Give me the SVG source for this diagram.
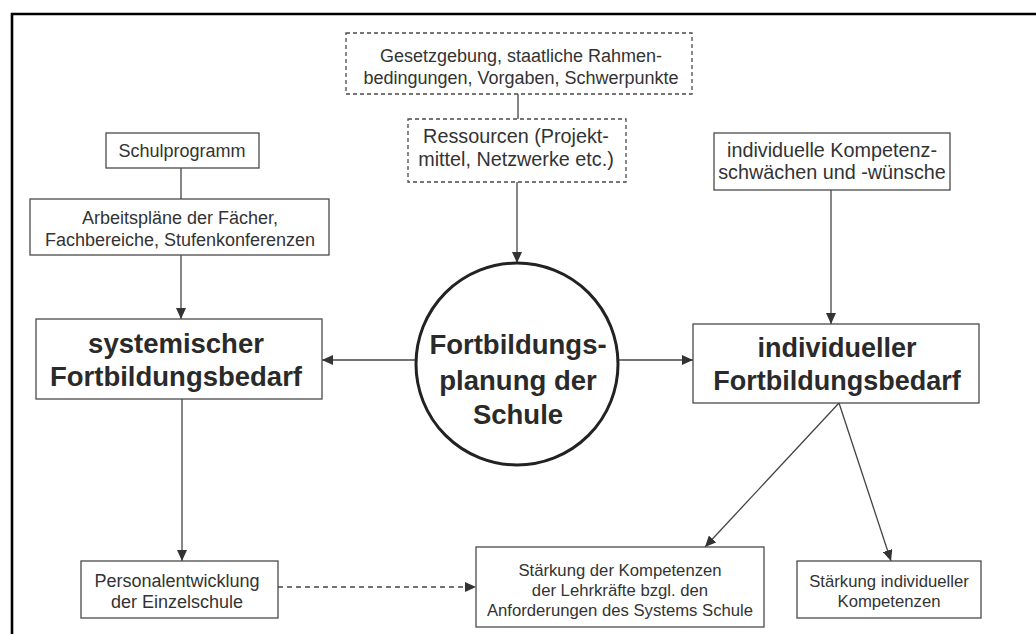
<svg xmlns="http://www.w3.org/2000/svg" width="1036" height="634" viewBox="0 0 1036 634">
  <style>
    .box { fill: #ffffff; stroke: #4a4a4a; stroke-width: 1.3; }
    .dbox { fill: #ffffff; stroke: #4a4a4a; stroke-width: 1.3; stroke-dasharray: 4 3; }
    .t { font-family: "Liberation Sans", Arial, sans-serif; font-size: 18px; fill: #333333; text-anchor: middle; }
    .tl { font-size: 19.8px; }
    .ts { font-size: 16.7px; }
    .tb { font-family: "Liberation Sans", Arial, sans-serif; font-size: 27.5px; font-weight: bold; fill: #2a2a2a; text-anchor: middle; }
    .edge { fill: none; stroke: #444444; stroke-width: 1.3; }
    .dashed { stroke-dasharray: 5 4; }
  </style>
  <defs>
    <marker id="arrow" markerUnits="userSpaceOnUse" markerWidth="12" markerHeight="10" refX="11" refY="5" orient="auto">
      <path d="M0,0 L11,5 L0,10 Z" fill="#333333"/>
    </marker>
  </defs>

  <rect x="0" y="0" width="1036" height="634" fill="#ffffff"/>
  <!-- page frame -->
  <path d="M12,634 V14 H1036" fill="none" stroke="#000000" stroke-width="2.6"/>

  <!-- connectors -->
  <g id="connectors">
    <line class="edge" x1="181" y1="168" x2="181" y2="199"/>
    <line class="edge" x1="181" y1="255" x2="181" y2="319" marker-end="url(#arrow)"/>
    <line class="edge" x1="518" y1="94" x2="518" y2="119"/>
    <line class="edge" x1="517" y1="182" x2="517" y2="263" marker-end="url(#arrow)"/>
    <line class="edge" x1="831" y1="190" x2="831" y2="324" marker-end="url(#arrow)"/>
    <line class="edge" x1="416" y1="360" x2="322" y2="360" marker-end="url(#arrow)"/>
    <line class="edge" x1="618" y1="360" x2="693" y2="360" marker-end="url(#arrow)"/>
    <line class="edge" x1="182" y1="399" x2="182" y2="561" marker-end="url(#arrow)"/>
    <line class="edge" x1="839" y1="403" x2="705" y2="547" marker-end="url(#arrow)"/>
    <line class="edge" x1="839" y1="403" x2="891" y2="561" marker-end="url(#arrow)"/>
    <line class="edge dashed" x1="278" y1="587" x2="476" y2="587" marker-end="url(#arrow)"/>
  </g>

  <g id="gesetzgebung">
    <rect class="dbox" x="346" y="33" width="346" height="61"/>
    <text class="t" x="521" y="62">Gesetzgebung, staatliche Rahmen-</text>
    <text class="t" x="521" y="84">bedingungen, Vorgaben, Schwerpunkte</text>
  </g>

  <g id="ressourcen">
    <rect class="dbox" x="408" y="119" width="218" height="63"/>
    <text class="t tl" x="516" y="143">Ressourcen (Projekt-</text>
    <text class="t tl" x="516" y="166">mittel, Netzwerke etc.)</text>
  </g>

  <g id="schulprogramm">
    <rect class="box" x="106" y="133" width="153" height="35"/>
    <text class="t" x="182" y="157">Schulprogramm</text>
  </g>

  <g id="arbeitsplaene">
    <rect class="box" x="30" y="199" width="299" height="56"/>
    <text class="t" x="180" y="224">Arbeitspläne der Fächer,</text>
    <text class="t" x="180" y="246">Fachbereiche, Stufenkonferenzen</text>
  </g>

  <g id="kompetenzschwaechen">
    <rect class="box" x="714" y="133" width="236" height="57"/>
    <text class="t tl" x="832" y="157">individuelle Kompetenz-</text>
    <text class="t tl" x="832" y="179">schwächen und -wünsche</text>
  </g>

  <g id="systemischer-bedarf">
    <rect class="box" x="36" y="319" width="286" height="80"/>
    <text class="tb" x="176" y="353">systemischer</text>
    <text class="tb" x="176" y="386">Fortbildungsbedarf</text>
  </g>

  <g id="fortbildungsplanung">
    <circle cx="517" cy="364" r="101" fill="#ffffff" stroke="#222222" stroke-width="3"/>
    <text class="tb" x="518" y="354">Fortbildungs-</text>
    <text class="tb" x="518" y="390">planung der</text>
    <text class="tb" x="518" y="424">Schule</text>
  </g>

  <g id="individueller-bedarf">
    <rect class="box" x="693" y="324" width="286" height="79"/>
    <text class="tb" x="837" y="357" style="font-size:27px">individueller</text>
    <text class="tb" x="837" y="390" style="font-size:27px">Fortbildungsbedarf</text>
  </g>

  <g id="personalentwicklung">
    <rect class="box" x="81" y="561" width="197" height="57"/>
    <text class="t" x="177" y="587">Personalentwicklung</text>
    <text class="t" x="177" y="608">der Einzelschule</text>
  </g>

  <g id="staerkung-system">
    <rect class="box" x="476" y="547" width="288" height="80"/>
    <text class="t ts" x="620" y="576">Stärkung der Kompetenzen</text>
    <text class="t ts" x="620" y="596">der Lehrkräfte bzgl. den</text>
    <text class="t ts" x="620" y="616">Anforderungen des Systems Schule</text>
  </g>

  <g id="staerkung-individuell">
    <rect class="box" x="797" y="561" width="184" height="57"/>
    <text class="t ts" x="889" y="587">Stärkung individueller</text>
    <text class="t ts" x="889" y="607">Kompetenzen</text>
  </g>
</svg>
